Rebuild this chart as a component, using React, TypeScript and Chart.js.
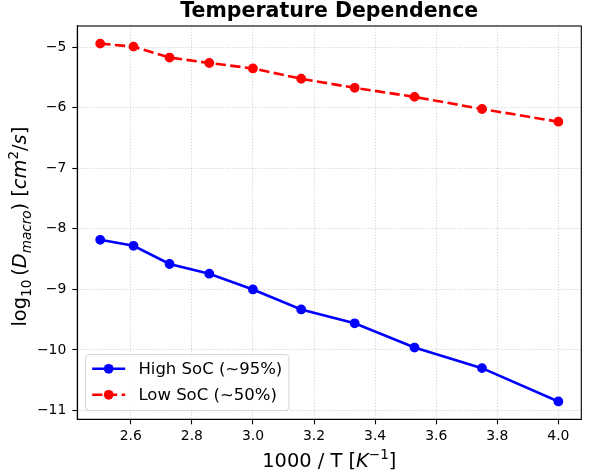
import { useEffect, useRef } from "react";
import { Chart, ChartConfiguration, Plugin, registerables } from "chart.js";

Chart.register(...registerables);

// 1000 / T for T = 400 ... 250 K
const invTemps = [2.5, 2.609, 2.727, 2.857, 3.0, 3.158, 3.333, 3.529, 3.75, 4.0];
const highSoc = [-8.18, -8.28, -8.58, -8.74, -9.0, -9.33, -9.56, -9.96, -10.3, -10.85];
const lowSoc = [-4.94, -4.99, -5.17, -5.26, -5.35, -5.52, -5.67, -5.82, -6.02, -6.23];
const seriesLabels = ["High SoC (~95%)", "Low SoC (~50%)"];
const xTicks = [2.6, 2.8, 3.0, 3.2, 3.4, 3.6, 3.8, 4.0];
const yTicks = [-11, -10, -9, -8, -7, -6, -5];

const FONT = "'DejaVu Sans', sans-serif";

type Part = { t: string; it?: boolean; sub?: boolean; sup?: boolean };

const xLabelParts: Part[] = [
  { t: "1000 / T [" },
  { t: "K", it: true },
  { t: "\u22121", sup: true },
  { t: "]" },
];

const yLabelParts: Part[] = [
  { t: "log" },
  { t: "10", sub: true },
  { t: "\u2009(" },
  { t: "D", it: true },
  { t: "macro", it: true, sub: true },
  { t: ") [" },
  { t: "cm", it: true },
  { t: "2", sup: true },
  { t: "/" },
  { t: "s", it: true },
  { t: "]" },
];

const drawRich = (ctx: CanvasRenderingContext2D, parts: Part[], size: number) => {
  const fontFor = (p: Part) => {
    const px = p.sub || p.sup ? size * 0.7 : size;
    return `${p.it ? "italic " : ""}${px}px ${FONT}`;
  };
  let total = 0;
  const widths = parts.map(p => {
    ctx.font = fontFor(p);
    const w = ctx.measureText(p.t).width;
    total += w;
    return w;
  });
  let x = -total / 2;
  ctx.textAlign = "left";
  ctx.textBaseline = "alphabetic";
  ctx.fillStyle = "#000";
  parts.forEach((p, i) => {
    ctx.font = fontFor(p);
    const dy = p.sub ? size * 0.22 : p.sup ? -size * 0.42 : 0;
    ctx.fillText(p.t, x, dy);
    x += widths[i];
  });
};

// frame, title, axis labels and legend in matplotlib style
const decorPlugin: Plugin<"line"> = {
  id: "decor",
  afterDraw(chart) {
    const { ctx, chartArea } = chart;
    const cx = (chartArea.left + chartArea.right) / 2;
    const cy = (chartArea.top + chartArea.bottom) / 2;

    ctx.save();
    ctx.strokeStyle = "#000";
    ctx.lineWidth = 1.1;
    ctx.strokeRect(chartArea.left, chartArea.top, chartArea.right - chartArea.left, chartArea.bottom - chartArea.top);

    ctx.fillStyle = "#000";
    ctx.font = `bold 20.5px ${FONT}`;
    ctx.textAlign = "center";
    ctx.textBaseline = "alphabetic";
    ctx.fillText("Temperature Dependence", cx, chartArea.top - 9);

    ctx.save();
    ctx.translate(cx, chartArea.bottom + 47.7);
    drawRich(ctx, xLabelParts, 19.4);
    ctx.restore();

    ctx.save();
    ctx.translate(chartArea.left - 51, cy + 4);
    ctx.rotate(-Math.PI / 2);
    drawRich(ctx, yLabelParts, 19.4);
    ctx.restore();

    // legend, lower left
    const fs = 16.5;
    const pad = 0.4 * fs;
    const handleLen = 2 * fs;
    const textPad = 0.8 * fs;
    const rowStep = 26;
    ctx.font = `${fs}px ${FONT}`;
    const datasets = chart.data.datasets;
    const maxW = Math.max(...datasets.map(d => ctx.measureText(String(d.label)).width));
    const boxW = pad + handleLen + textPad + maxW + pad;
    const boxH = 56;
    const bx = chartArea.left + 8.3;
    const by = chartArea.bottom - 8.8 - boxH;
    ctx.beginPath();
    ctx.roundRect(bx, by, boxW, boxH, 3.3);
    ctx.fillStyle = "rgba(255,255,255,0.8)";
    ctx.fill();
    ctx.strokeStyle = "rgba(204,204,204,0.8)";
    ctx.lineWidth = 1;
    ctx.stroke();

    datasets.forEach((d, i) => {
      const ry = by + 14.3 + i * rowStep;
      const hx0 = bx + pad;
      const hx1 = hx0 + handleLen;
      const color = d.borderColor as string;
      ctx.strokeStyle = color;
      ctx.lineWidth = (d as any).borderWidth;
      ctx.setLineDash(((d as any).borderDash as number[]) || []);
      ctx.beginPath();
      ctx.moveTo(hx0, ry);
      ctx.lineTo(hx1, ry);
      ctx.stroke();
      ctx.setLineDash([]);
      ctx.beginPath();
      ctx.arc((hx0 + hx1) / 2, ry, 4.85, 0, Math.PI * 2);
      ctx.fillStyle = color;
      ctx.fill();
      ctx.fillStyle = "#000";
      ctx.font = `${fs}px ${FONT}`;
      ctx.textAlign = "left";
      ctx.textBaseline = "middle";
      ctx.fillText(String(d.label), hx1 + textPad, ry + 1);
    });
    ctx.restore();
  },
};

const gridStyle = {
  color: "rgba(176,176,176,0.75)",
  lineWidth: 0.8,
  tickColor: "#000",
  tickWidth: 1.1,
  tickLength: 5,
};

export default function App() {
  const canvasRef = useRef<HTMLCanvasElement | null>(null);
  const chartRef = useRef<Chart | null>(null);

  useEffect(() => {
    document.body.style.margin = "0";
    if (!canvasRef.current) return;

    const config: ChartConfiguration<"line"> = {
      type: "line",
      data: {
        datasets: [
          {
            label: seriesLabels[0],
            data: invTemps.map((x, i) => ({ x, y: highSoc[i] })),
            borderColor: "#0000ff",
            backgroundColor: "#0000ff",
            borderWidth: 2.6,
            pointRadius: 4.2,
            pointBorderWidth: 1.4,
            pointBorderColor: "#0000ff",
            pointBackgroundColor: "#0000ff",
            fill: false,
            tension: 0,
          },
          {
            label: seriesLabels[1],
            data: invTemps.map((x, i) => ({ x, y: lowSoc[i] })),
            borderColor: "#ff0000",
            backgroundColor: "#ff0000",
            borderWidth: 2.6,
            borderDash: [10.3, 4.4],
            pointRadius: 4.2,
            pointBorderWidth: 1.4,
            pointBorderColor: "#ff0000",
            pointBackgroundColor: "#ff0000",
            fill: false,
            tension: 0,
          },
        ],
      },
      plugins: [decorPlugin],
      options: {
        responsive: false,
        animation: false,
        layout: { padding: { top: 26, right: 9.7, bottom: 0, left: 0 } },
        plugins: {
          legend: { display: false },
          title: { display: false },
          tooltip: { enabled: false },
        },
        scales: {
          x: {
            type: "linear",
            min: 2.425,
            max: 4.075,
            afterFit: scale => { scale.height = 55.7; },
            afterBuildTicks: axis => { axis.ticks = xTicks.map(value => ({ value })); },
            grid: gridStyle,
            border: { display: true, color: "#000", width: 1.1, dash: [1.1, 1.8] },
            ticks: {
              color: "#000",
              padding: 4,
              maxRotation: 0,
              font: { family: FONT, size: 13.9 },
              callback: value => Number(value).toFixed(1),
            },
          },
          y: {
            type: "linear",
            min: -11.145,
            max: -4.649,
            afterFit: scale => { scale.width = 77.3; },
            afterBuildTicks: axis => { axis.ticks = yTicks.map(value => ({ value })); },
            grid: gridStyle,
            border: { display: true, color: "#000", width: 1.1, dash: [1.1, 1.8] },
            ticks: {
              color: "#000",
              padding: 6,
              font: { family: FONT, size: 13.9 },
              callback: value => {
                const v = Number(value);
                return (v < 0 ? "\u2212" : "") + Math.abs(v).toFixed(0);
              },
            },
          },
        },
      },
    };

    chartRef.current = new Chart(canvasRef.current, config);
    return () => {
      chartRef.current?.destroy();
      chartRef.current = null;
    };
  }, []);

  return (
    <div style={{ width: 591, height: 475, background: "#fff" }}>
      <canvas ref={canvasRef} width={591} height={475} style={{ width: 591, height: 475 }} />
    </div>
  );
}
